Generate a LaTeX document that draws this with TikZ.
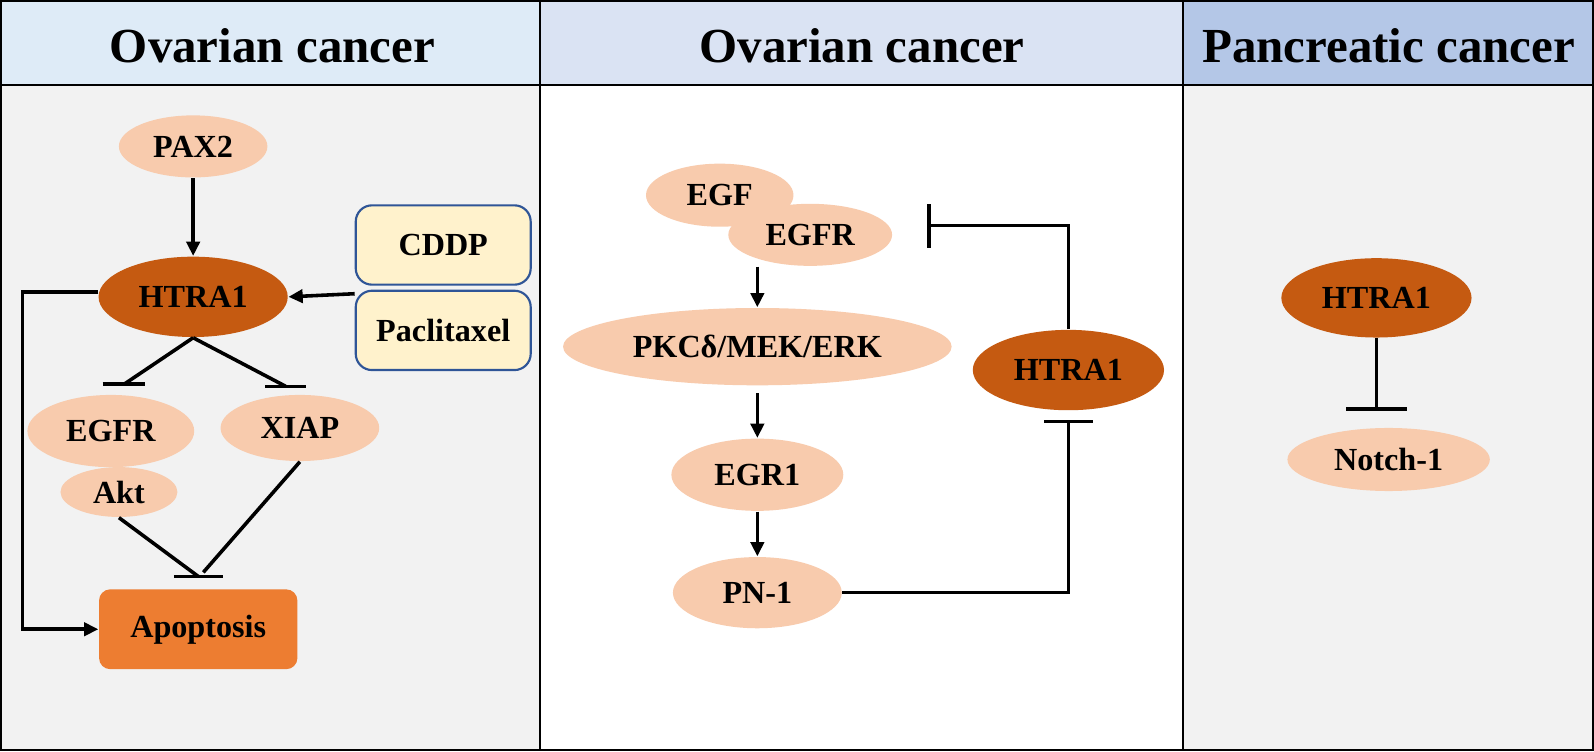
\documentclass[tikz,border=0pt]{standalone}
\usepackage{fontspec}
\setmainfont{Liberation Serif}
\usetikzlibrary{shapes.geometric,arrows.meta,calc}
\definecolor{hdrone}{HTML}{DEEBF7}
\definecolor{hdrtwo}{HTML}{DAE3F3}
\definecolor{hdrthree}{HTML}{B4C7E7}
\definecolor{panelgray}{HTML}{F2F2F2}
\definecolor{peach}{HTML}{F8CBAD}
\definecolor{rust}{HTML}{C55A11}
\definecolor{apopt}{HTML}{ED7D31}
\definecolor{drug}{HTML}{FFF2CC}
\definecolor{drugline}{HTML}{2F5597}
\tikzset{
	light/.style={ellipse,fill=peach,inner sep=0pt,font=\fontsize{9}{11}\selectfont\bfseries},
	dark/.style={light,fill=rust},
	drugbox/.style={rectangle,rounded corners=1.6mm,draw=drugline,fill=drug,line width=0.6pt,inner sep=0pt,minimum width=1.72cm,minimum height=0.78cm,font=\fontsize{9}{11}\selectfont\bfseries},
	heading/.style={anchor=base,font=\fontsize{13.7}{16}\selectfont\bfseries},
	gridline/.style={line width=0.6pt},
	link/.style={line width=1pt},
	act/.style={link,-{Triangle[length=1.4mm,width=1.3mm]}},
}
\begin{document}
\begin{tikzpicture}[x=0.01cm,y=-0.01cm]
			\useasboundingbox (0,0) rectangle (1568,739);
			\fill[hdrone] (0,0) rectangle (531,84);
			\fill[hdrtwo] (531,0) rectangle (1164,84);
			\fill[hdrthree] (1164,0) rectangle (1568,84);
			\fill[panelgray] (0,84) rectangle (531,739);
			\fill[white] (531,84) rectangle (1164,739);
			\fill[panelgray] (1164,84) rectangle (1568,739);
			\draw[gridline] (1,1) rectangle (1567,738);
			\draw[gridline] (1,84) -- (1567,84);
			\draw[gridline] (531,1) -- (531,738);
			\draw[gridline] (1164,1) -- (1164,738);
			\node[heading] (hone) at (268,61) {Ovarian cancer};
			\node[heading] (htwo) at (848,61) {Ovarian cancer};
			\node[heading] (hthree) at (1366,61) {Pancreatic cancer};
			\node[light,minimum width=1.46cm,minimum height=0.61cm] (pax) at (190,144) {PAX2};
			\node[dark,minimum width=1.86cm,minimum height=0.79cm] (htra) at (190,292) {HTRA1};
			\node[drugbox] (cddp) at (436,241) {CDDP};
			\node[drugbox] (pacl) at (436,325) {Paclitaxel};
			\node[light,minimum width=1.64cm,minimum height=0.71cm] (egfr) at (109,424) {EGFR};
			\node[light,minimum width=1.15cm,minimum height=0.49cm] (akt) at (117,484) {Akt};
			\node[light,minimum width=1.56cm,minimum height=0.65cm] (xiap) at (295,421) {XIAP};
			\node[rectangle,rounded corners=1.1mm,fill=apopt,inner sep=0pt,minimum width=1.95cm,minimum height=0.785cm,font=\fontsize{9}{11}\selectfont\bfseries] (apop) at (195,619) {Apoptosis};
			\coordinate (egfrstop) at (122,378);
			\coordinate (xiapstop) at (281,380);
			\coordinate (apopstop) at (195,567);
			\draw[act] (pax) -- (htra);
			\draw[act] ($(pacl.north west)!0.05!(pacl.south west)$) -- (htra.east);
			\draw[act] ([yshift=1.4pt]htra.west) -- ++(-74,0) |- (apop.west);
			\draw[link] (htra.south) -- (egfrstop);
			\draw[link] (egfrstop) ++(-21,0) -- ++(42,0);
			\draw[link] (htra.south) -- (xiapstop);
			\draw[link] (xiapstop) ++(-20,0) -- ++(40,0);
			\draw[link] (akt.south) -- (apopstop);
			\draw[link] (xiap.south) -- ($(apopstop)+(5,-4)$);
			\draw[link] (apopstop) ++(-24,0) -- ++(48,0);
			\node[light,minimum width=1.45cm,minimum height=0.62cm] (egf) at (708,192) {EGF};
			\node[light,minimum width=1.61cm,minimum height=0.61cm] (egfrb) at (797,231) {EGFR};
			\node[light,minimum width=3.82cm,minimum height=0.76cm] (pkc) at (745,341) {PKCδ/MEK/ERK};
			\node[light,minimum width=1.69cm,minimum height=0.71cm] (egr) at (745,467) {EGR1};
			\node[light,minimum width=1.66cm,minimum height=0.70cm] (pn) at (745,583) {PN-1};
			\node[dark,minimum width=1.88cm,minimum height=0.79cm] (htrb) at (1051,364) {HTRA1};
			\coordinate (egfrcut) at (912,222);
			\coordinate (htrbcut) at (1051,413);
			\draw[act] (pkc.north |- egfrb.south) -- (pkc.north);
			\draw[act,shorten <=0.7mm] (pkc) -- (egr);
			\draw[act] (egr) -- (pn);
			\draw[link,-{Bar[width=4.3mm]}] (htrb.north) |- (egfrcut);
			\draw[link,-{Bar[width=4.8mm]}] (pn.east) -| (htrbcut);
			\node[dark,minimum width=1.87cm,minimum height=0.78cm] (htrc) at (1354,293) {HTRA1};
			\node[light,minimum width=1.99cm,minimum height=0.62cm] (notch) at (1366,452) {Notch-1};
			\coordinate (notchcut) at (1354,404);
			\draw[link,-{Bar[width=6mm]}] (htrc.south) -- (notchcut);
		\end{tikzpicture}
\end{document}
